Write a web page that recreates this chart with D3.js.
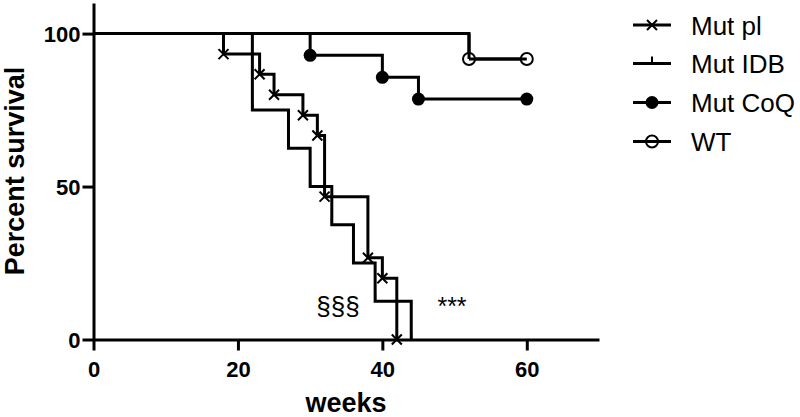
<!DOCTYPE html>
<html><head><meta charset="utf-8">
<script src="https://cdn.jsdelivr.net/npm/d3@7"></script>
<style>body{margin:0;background:#fff}svg{display:block}text{font-family:Arial,"Liberation Sans",sans-serif}</style>
</head><body><svg id="c" width="800" height="417"></svg>
<script>
// Kaplan-Meier step data: [weeks, percent]
const mutPl  = [[0,100],[18,93.3],[23,86.7],[25,80],[29,73.3],[31,66.7],[32,46.7],[38,26.7],[40,20],[42,0]];
const mutIDB = [[0,100],[22,75],[27,62.5],[30,50],[33,37.5],[36,25],[39,12.5],[44,0]];
const mutCoQ = [[0,100],[30,92.9],[40,85.7],[45,78.6],[60,78.6]];
const wt     = [[0,100],[52,91.7],[60,91.7]];
const seriesNames = ["Mut pl","Mut IDB","Mut CoQ","WT"];
const xTicks = [0,20,40,60];
const yTicks = [0,50,100];

const svg = d3.select("#c");
const x = d3.scaleLinear().domain([0,70]).range([93.5,599]);
const y = d3.scaleLinear().domain([0,110]).range([339.5,3]);

const gx = svg.append("g").attr("transform",`translate(0,${y(0)})`)
  .call(d3.axisBottom(x).tickValues(xTicks).tickSize(11).tickPadding(6).tickSizeOuter(0));
const gy = svg.append("g").attr("transform",`translate(${x(0)},0)`)
  .call(d3.axisLeft(y).tickValues(yTicks).tickSize(11).tickPadding(2).tickSizeOuter(0));
[gx,gy].forEach(g=>{
  g.select(".domain").attr("stroke","#000").attr("stroke-width",3);
  g.selectAll(".tick line").attr("stroke","#000").attr("stroke-width",3);
  g.selectAll(".tick text").attr("fill","#000").attr("font-size",22).attr("font-weight","bold");
});
gx.selectAll(".tick text").attr("dy","0.95em");
gy.selectAll(".tick text").attr("dy","0.36em");

const stepLine = d3.line().x(d=>x(d[0])).y(d=>y(d[1])).curve(d3.curveStepAfter);
const plot = svg.append("g");
[wt,mutCoQ,mutIDB,mutPl].forEach(s=>{
  plot.append("path").attr("d",stepLine(s)).attr("fill","none").attr("stroke","#000").attr("stroke-width",3);
});

function cross(g,cx,cy,r){
  g.append("path").attr("d",`M${cx-r},${cy-r}L${cx+r},${cy+r}M${cx-r},${cy+r}L${cx+r},${cy-r}`)
   .attr("stroke","#000").attr("stroke-width",2).attr("fill","none");
}
mutPl.slice(1).forEach(d=>cross(plot,x(d[0]),y(d[1]),5));
mutIDB.slice(1).forEach(d=>plot.append("line").attr("x1",x(d[0])).attr("x2",x(d[0])).attr("y1",y(d[1])).attr("y2",y(d[1])-7).attr("stroke","#000").attr("stroke-width",2));
mutCoQ.slice(1).forEach(d=>plot.append("circle").attr("cx",x(d[0])).attr("cy",y(d[1])).attr("r",6.5).attr("fill","#000"));
wt.slice(1).forEach(d=>plot.append("circle").attr("cx",x(d[0])).attr("cy",y(d[1])).attr("r",6).attr("fill","#fff").attr("stroke","#000").attr("stroke-width",2));
plot.append("path").attr("d",stepLine(wt.slice(1))).attr("fill","none").attr("stroke","#000").attr("stroke-width",3);
plot.append("line").attr("x1",x(52)).attr("x2",x(52)).attr("y1",y(100)).attr("y2",y(91.7)).attr("stroke","#000").attr("stroke-width",3);

svg.append("text").attr("x",338).attr("y",315).attr("text-anchor","middle").attr("font-size",26).text("§§§");
svg.append("text").attr("x",452).attr("y",315).attr("text-anchor","middle").attr("font-size",25).text("***");

svg.append("text").attr("x",346).attr("y",412).attr("text-anchor","middle").attr("font-size",27).attr("font-weight","bold").text("weeks");
svg.append("text").attr("transform","translate(24,171) rotate(-90)").attr("text-anchor","middle").attr("font-size",27).attr("font-weight","bold").text("Percent survival");

const lg = svg.append("g");
const rows = [25,63.5,102.5,141.5];
seriesNames.forEach((n,i)=>{
  const ry = rows[i];
  lg.append("line").attr("x1",633).attr("x2",671).attr("y1",ry).attr("y2",ry).attr("stroke","#000").attr("stroke-width",3);
  if(i===0) cross(lg,652,ry,5);
  if(i===1) lg.append("line").attr("x1",652).attr("x2",652).attr("y1",ry).attr("y2",ry-7).attr("stroke","#000").attr("stroke-width",2);
  if(i===2) lg.append("circle").attr("cx",652).attr("cy",ry).attr("r",6.5).attr("fill","#000");
  if(i===3){ lg.append("circle").attr("cx",652).attr("cy",ry).attr("r",6).attr("fill","#fff").attr("stroke","#000").attr("stroke-width",2);
    lg.append("line").attr("x1",646).attr("x2",658).attr("y1",ry).attr("y2",ry).attr("stroke","#000").attr("stroke-width",3);}
  lg.append("text").attr("x",691).attr("y",ry+9.5).attr("font-size",26).text(n);
});
</script></body></html>
